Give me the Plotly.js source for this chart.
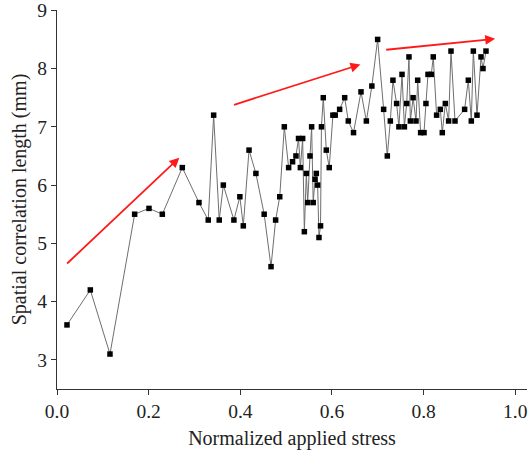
<!DOCTYPE html>
<html>
<head>
<meta charset="utf-8">
<script src="https://cdn.plot.ly/plotly-3.0.1.min.js"></script>
<style>html,body{margin:0;padding:0;background:#fff;}#chart{width:528px;height:455px;}</style>
</head>
<body>
<div id="chart"></div>
<script>
// Normalized applied stress
const stress = [0.0218, 0.0727, 0.1156, 0.1694, 0.2007, 0.2298, 0.2734, 0.3098, 0.330, 0.3418,
  0.354, 0.3629, 0.386, 0.399, 0.4065, 0.419, 0.434, 0.452, 0.467, 0.477,
  0.486, 0.496, 0.5054, 0.514, 0.5214, 0.527, 0.531, 0.536, 0.5397, 0.544,
  0.547, 0.552, 0.5556, 0.559, 0.563, 0.5658, 0.5687, 0.5716, 0.575, 0.577,
  0.581, 0.5876, 0.594, 0.602, 0.607, 0.6167, 0.6277, 0.6356, 0.647, 0.6633,
  0.675, 0.687, 0.6996, 0.7127, 0.7207, 0.7273, 0.733, 0.741, 0.746, 0.7528,
  0.758, 0.763, 0.768, 0.771, 0.777, 0.7833, 0.787, 0.7934, 0.8008, 0.805,
  0.8095, 0.8167, 0.821, 0.8283, 0.8364, 0.8407, 0.8473, 0.8545, 0.8597, 0.8684,
  0.8894, 0.8975, 0.904, 0.9084, 0.9164, 0.9252, 0.9295, 0.936];
// Spatial correlation length (mm)
const corrLength = [3.6, 4.2, 3.1, 5.5, 5.6, 5.5, 6.3, 5.7, 5.4, 7.2,
  5.4, 6.0, 5.4, 5.8, 5.3, 6.6, 6.2, 5.5, 4.6, 5.4,
  5.8, 7.0, 6.3, 6.4, 6.5, 6.8, 6.3, 6.8, 5.2, 6.2,
  5.7, 6.5, 7.0, 5.7, 6.1, 6.2, 6.0, 5.1, 5.3, 7.0,
  7.5, 6.6, 6.3, 7.2, 7.2, 7.3, 7.5, 7.1, 6.9, 7.6,
  7.1, 7.7, 8.5, 7.3, 6.5, 7.1, 7.8, 7.4, 7.0, 7.9,
  7.0, 7.4, 8.2, 7.1, 7.5, 7.1, 7.8, 6.9, 6.9, 7.4,
  7.9, 7.9, 8.2, 7.2, 7.3, 6.9, 7.4, 7.1, 8.3, 7.1,
  7.3, 7.8, 7.1, 8.3, 7.2, 8.2, 8.0, 8.3];
// Trend arrows: [x0, y0, x1, y1]
const trendArrows = [
  [0.0188, 4.63, 0.267, 6.47],
  [0.383, 7.37, 0.662, 8.07],
  [0.715, 8.32, 0.956, 8.51]
];
const xTickVals = [0.0, 0.2, 0.4, 0.6, 0.8, 1.0];
const xTickText = ['0.0', '0.2', '0.4', '0.6', '0.8', '1.0'];
const yTickVals = [3, 4, 5, 6, 7, 8, 9];
const yTickText = ['3', '4', '5', '6', '7', '8', '9'];

const font = 'Times New Roman';

const trace = {
  x: stress, y: corrLength,
  type: 'scatter', mode: 'lines+markers',
  line: {color: '#6e6e6e', width: 1},
  marker: {symbol: 'square', size: 5.5, color: '#000'},
  hoverinfo: 'x+y'
};

const annotations = trendArrows.map(a => ({
  x: a[2], y: a[3], ax: a[0], ay: a[1],
  xref: 'x', yref: 'y', axref: 'x', ayref: 'y',
  text: '', showarrow: true,
  arrowhead: 2, arrowsize: 1.1, arrowwidth: 1.8, arrowcolor: '#ff1a1a'
}));

const layout = {
  width: 528, height: 455,
  margin: {l: 57, r: 1, t: 10, b: 66},
  paper_bgcolor: '#fff', plot_bgcolor: '#fff',
  showlegend: false,
  font: {family: font, color: '#222', size: 19},
  xaxis: {
    range: [0, 1.0255],
    tickvals: xTickVals, ticktext: xTickText,
    ticks: 'outside', ticklen: 5, tickwidth: 1, tickcolor: '#333',
    showline: true, linecolor: '#333', linewidth: 1,
    showgrid: false, zeroline: false,
    tickfont: {family: font, size: 19.5, color: '#222'},
    title: {text: 'Normalized applied stress', font: {family: font, size: 20, color: '#222'}, standoff: 9}
  },
  yaxis: {
    range: [2.5, 9.005],
    tickvals: yTickVals, ticktext: yTickText,
    ticks: 'outside', ticklen: 5, tickwidth: 1, tickcolor: '#333',
    ticklabeloverflow: 'allow',
    showline: true, linecolor: '#333', linewidth: 1,
    showgrid: false, zeroline: false,
    tickfont: {family: font, size: 19.5, color: '#222'},
    title: {text: 'Spatial correlation length (mm)', font: {family: font, size: 20, color: '#222'}, standoff: 5}
  },
  annotations: annotations
};

Plotly.newPlot('chart', [trace], layout, {displayModeBar: false, staticPlot: true});
</script>
</body>
</html>
